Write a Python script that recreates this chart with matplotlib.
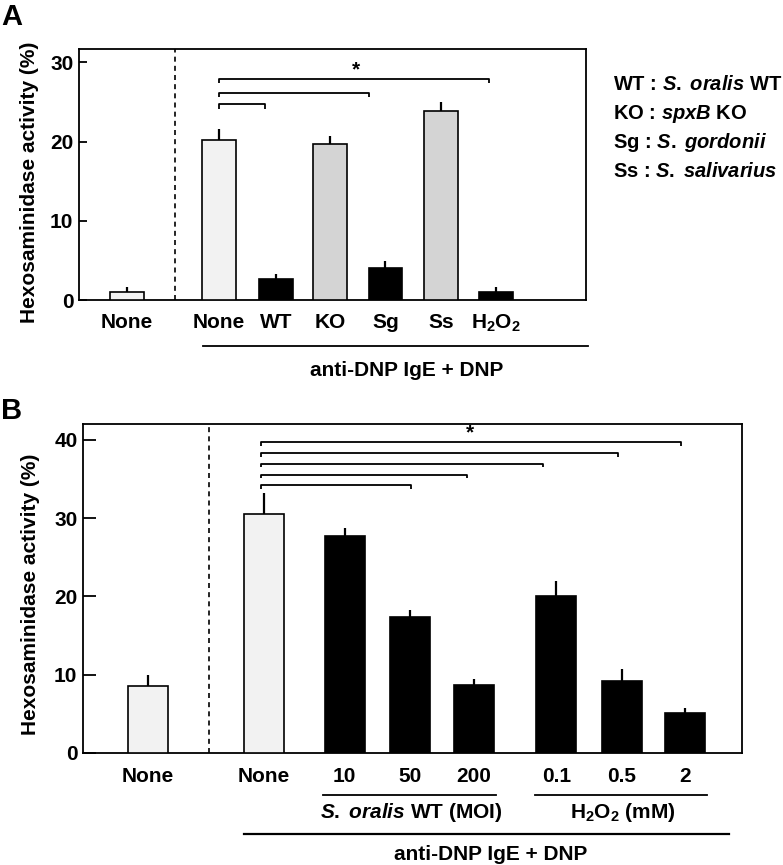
import matplotlib
matplotlib.use('Agg')
import matplotlib.pyplot as plt
import matplotlib.transforms as mtransforms

plt.rcParams['font.family'] = ['Liberation Sans', 'DejaVu Sans']
plt.rcParams['font.weight'] = 'bold'
plt.rcParams['mathtext.fontset'] = 'custom'
plt.rcParams['mathtext.rm'] = 'Liberation Sans:bold'
plt.rcParams['mathtext.bf'] = 'Liberation Sans:bold'
plt.rcParams['mathtext.it'] = 'Liberation Sans:italic:bold'

FS = 15

# ---- data: panel A ----
a_labels = ['None', 'None', 'WT', 'KO', 'Sg', 'Ss', 'H$_2$O$_2$']
a_values = [1.0, 20.2, 2.6, 19.7, 4.1, 23.9, 1.0]
a_errors = [0.6, 1.4, 0.65, 1.0, 0.8, 1.1, 0.6]
a_colors = ['#f2f2f2', '#f2f2f2', 'black', '#d4d4d4', 'black', '#d4d4d4', 'black']
a_brackets = [(2.49, 24.7), (4.37, 26.2), (6.53, 27.9)]  # (end x, height)

# ---- data: panel B ----
b_labels = ['None', 'None', '10', '50', '200', '0.1', '0.5', '2']
b_values = [8.55, 30.45, 27.75, 17.35, 8.65, 20.1, 9.15, 5.05]
b_errors = [1.45, 2.75, 0.95, 0.85, 0.75, 1.8, 1.6, 0.65]
b_colors = ['#f2f2f2', '#f2f2f2', 'black', 'black', 'black', 'black', 'black', 'black']
b_brackets = [(4.08, 34.2), (4.95, 35.5), (6.12, 36.9), (7.29, 38.3), (8.26, 39.65)]

legend_lines = ['WT : $\\mathit{S.\\;oralis}$ WT',
                'KO : $\\mathit{spxB}$ KO',
                'Sg : $\\mathit{S.\\;gordonii}$',
                'Ss : $\\mathit{S.\\;salivarius}$']

W, H = 783, 865
fig = plt.figure(figsize=(W / 100, H / 100), dpi=100)


def fy(py):
    return 1 - py / H


def make_axes(left, right, top, bottom):
    return fig.add_axes([left / W, fy(bottom), (right - left) / W, (bottom - top) / H])


def draw_panel(ax, pos, values, errors, colors, width, brackets, tick_h, start_x):
    ax.bar(pos, values, width=width, color=colors, edgecolor='black', linewidth=1.2, zorder=3)
    ax.errorbar(pos, values, yerr=[[0] * len(values), errors], fmt='none',
                ecolor='black', elinewidth=1.6, capsize=0, zorder=2)
    for end, h in brackets:
        ax.plot([start_x, start_x, end, end], [h - tick_h, h, h, h - tick_h],
                color='black', lw=1.3, solid_capstyle='butt', clip_on=False)
    ax.set_xticks([])
    for s in ax.spines.values():
        s.set_linewidth(1.3)
    ax.tick_params(axis='y', direction='in', length=6, width=1.3, labelsize=FS, pad=4)
    ax.set_ylabel('Hexosaminidase activity (%)', fontsize=FS, fontweight='bold')


# ================= Panel A =================
axA = make_axes(79, 586, 49, 300)
posA = [0, 1.66, 2.69, 3.66, 4.66, 5.67, 6.66]
draw_panel(axA, posA, a_values, a_errors, a_colors, 0.61, a_brackets, 0.55, posA[1])
axA.set_xlim(-0.87, 8.28)
axA.set_ylim(0, 31.7)
axA.set_yticks([0, 10, 20, 30])
axA.yaxis.set_label_coords(-0.078, 0.47)
axA.axvline(0.87, color='black', lw=1.2, ls=(0, (3, 2.5)))
axA.text(4.12, 29.1, '*', ha='center', va='center', fontsize=FS, fontweight='bold')

trA = mtransforms.blended_transform_factory(axA.transData, fig.transFigure)
for x, lab in zip(posA, a_labels):
    axA.text(x, fy(323), lab, transform=trA, ha='center', va='center', fontsize=FS)
axA.plot([posA[1] - 0.29, 8.32], [fy(346), fy(346)], transform=trA, color='black',
         lw=1.3, clip_on=False)
axA.text(5.05, fy(371), 'anti-DNP IgE + DNP', transform=trA, ha='center', va='center',
         fontsize=FS)

for i, line in enumerate(legend_lines):
    fig.text(613 / W, fy(85 + 28.7 * i), line, ha='left', va='center', fontsize=14.5)

fig.text(1 / W, fy(17), 'A', ha='left', va='center', fontsize=21, fontweight='bold')

# ================= Panel B =================
axB = make_axes(83, 742, 424, 753)
posB = [0, 1.80, 3.05, 4.06, 5.05, 6.33, 7.35, 8.33]
draw_panel(axB, posB, b_values, b_errors, b_colors, 0.62, b_brackets, 0.45, 1.75)
axB.set_xlim(-1.01, 9.21)
axB.set_ylim(0, 42.0)
axB.set_yticks([0, 10, 20, 30, 40])
axB.yaxis.set_label_coords(-0.065, 0.483)
axB.tick_params(axis='y', length=9)
axB.axvline(0.95, color='black', lw=1.2, ls=(0, (3, 2.5)))
axB.text(4.99, 40.9, '*', ha='center', va='center', fontsize=FS, fontweight='bold')

trB = mtransforms.blended_transform_factory(axB.transData, fig.transFigure)
for x, lab in zip(posB, b_labels):
    axB.text(x, fy(777), lab, transform=trB, ha='center', va='center', fontsize=FS)
axB.plot([posB[2] - 0.34, posB[4] + 0.35], [fy(795), fy(795)], transform=trB,
         color='black', lw=1.3, clip_on=False)
axB.plot([posB[5] - 0.33, posB[7] + 0.34], [fy(795), fy(795)], transform=trB,
         color='black', lw=1.3, clip_on=False)
axB.text(4.09, fy(812), '$\\mathit{S.\\;oralis}$ WT (MOI)', transform=trB,
         ha='center', va='center', fontsize=FS)
axB.text(7.36, fy(812), 'H$_2$O$_2$ (mM)', transform=trB, ha='center', va='center',
         fontsize=FS)
axB.plot([posB[1] - 0.31, posB[7] + 0.68], [fy(834), fy(834)], transform=trB,
         color='black', lw=1.6, clip_on=False)
axB.text(5.32, fy(855), 'anti-DNP IgE + DNP', transform=trB, ha='center', va='center',
         fontsize=FS)

fig.text(1 / W, fy(411), 'B', ha='left', va='center', fontsize=21, fontweight='bold')

fig.savefig('out.png', dpi=100)
